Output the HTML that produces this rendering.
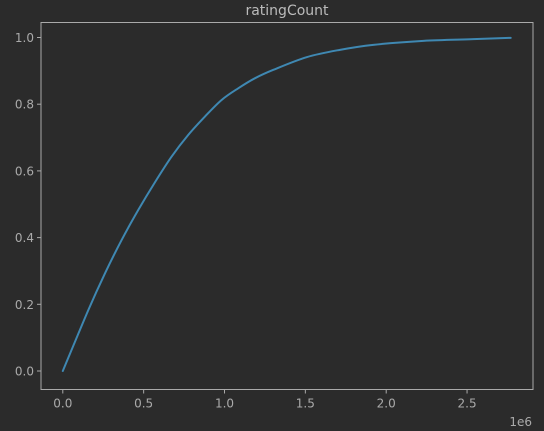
<!DOCTYPE html>
<html><head><meta charset="utf-8"><style>
html,body{margin:0;padding:0;background:#2b2b2b;}
svg{display:block;font-family:"DejaVu Sans","Liberation Sans",sans-serif;}
</style></head><body>
<svg id="chart" width="544" height="431">
<rect x="0" y="0" width="544" height="431" fill="#2b2b2b"/>
<text x="287" y="15" text-anchor="middle" fill="#bbbbbb" font-size="14">ratingCount</text>
<g id="axes"></g>
</svg>
<script>
const xValues = [0, 0.158, 0.261, 0.364, 0.467, 0.570, 0.673, 0.776, 0.879, 0.983, 1.086, 1.189, 1.302, 1.508, 1.714, 1.92, 2.23, 2.539, 2.77];
const yValues = [0, 0.183, 0.293, 0.393, 0.483, 0.566, 0.643, 0.708, 0.763, 0.813, 0.848, 0.878, 0.903, 0.941, 0.963, 0.978, 0.990, 0.995, 0.999];
const xTicks = [0, 0.5, 1.0, 1.5, 2.0, 2.5];
const xTickLabels = ["0.0", "0.5", "1.0", "1.5", "2.0", "2.5"];
const yTicks = [0, 0.2, 0.4, 0.6, 0.8, 1.0];
const yTickLabels = ["0.0", "0.2", "0.4", "0.6", "0.8", "1.0"];

const NS = "http://www.w3.org/2000/svg";
const L = 41, R = 533, T = 22.5, B = 389.5;
function xs(v){ return 62.8 + v * 161.7; }
function ys(v){ return 371 - v * 333.5; }
const g = document.getElementById('axes');
function mk(tag, attrs){ const e = document.createElementNS(NS, tag); for (const k in attrs) e.setAttribute(k, attrs[k]); g.appendChild(e); return e; }

const frame = mk('rect', {x:L, y:T, width:R-L, height:B-T, fill:'none', stroke:'#aaaaaa', 'stroke-width':1});



xTicks.forEach((v, i) => {
  const x = xs(v);
  const t = mk('line', {x1:x, x2:x, y1:B, y2:B+4, stroke:'#aaaaaa'});
  
  
  const lb = mk('text', {x:x, y:B+18, 'text-anchor':'middle', fill:'#aaaaaa', 'font-size':12});
  lb.textContent = xTickLabels[i];
  
  
});
yTicks.forEach((v, i) => {
  const y = ys(v);
  const t = mk('line', {x1:L-4, x2:L, y1:y, y2:y, stroke:'#aaaaaa'});
  
  
  const lb = mk('text', {x:L-7, y:y+4.5, 'text-anchor':'end', fill:'#aaaaaa', 'font-size':12});
  lb.textContent = yTickLabels[i];
  
  
});
const off = mk('text', {x:532, y:426, 'text-anchor':'end', fill:'#aaaaaa', 'font-size':12});
off.textContent = '1e6';



const P = xValues.map((v, i) => [xs(v), ys(yValues[i])]);
let d = 'M' + P[0][0].toFixed(2) + ',' + P[0][1].toFixed(2);
for (let i = 0; i < P.length - 1; i++) {
  const p0 = P[Math.max(0, i-1)], p1 = P[i], p2 = P[i+1], p3 = P[Math.min(P.length-1, i+2)];
  const c1 = [p1[0] + (p2[0]-p0[0])/6, p1[1] + (p2[1]-p0[1])/6];
  const c2 = [p2[0] - (p3[0]-p1[0])/6, p2[1] - (p3[1]-p1[1])/6];
  d += ' C' + c1[0].toFixed(2) + ',' + c1[1].toFixed(2) + ' ' + c2[0].toFixed(2) + ',' + c2[1].toFixed(2) + ' ' + p2[0].toFixed(2) + ',' + p2[1].toFixed(2);
}
const line = mk('path', {d:d, fill:'none', stroke:'#3f88b2', 'stroke-width':2, 'stroke-linejoin':'round', 'stroke-linecap':'round'});


</script>
</body></html>
